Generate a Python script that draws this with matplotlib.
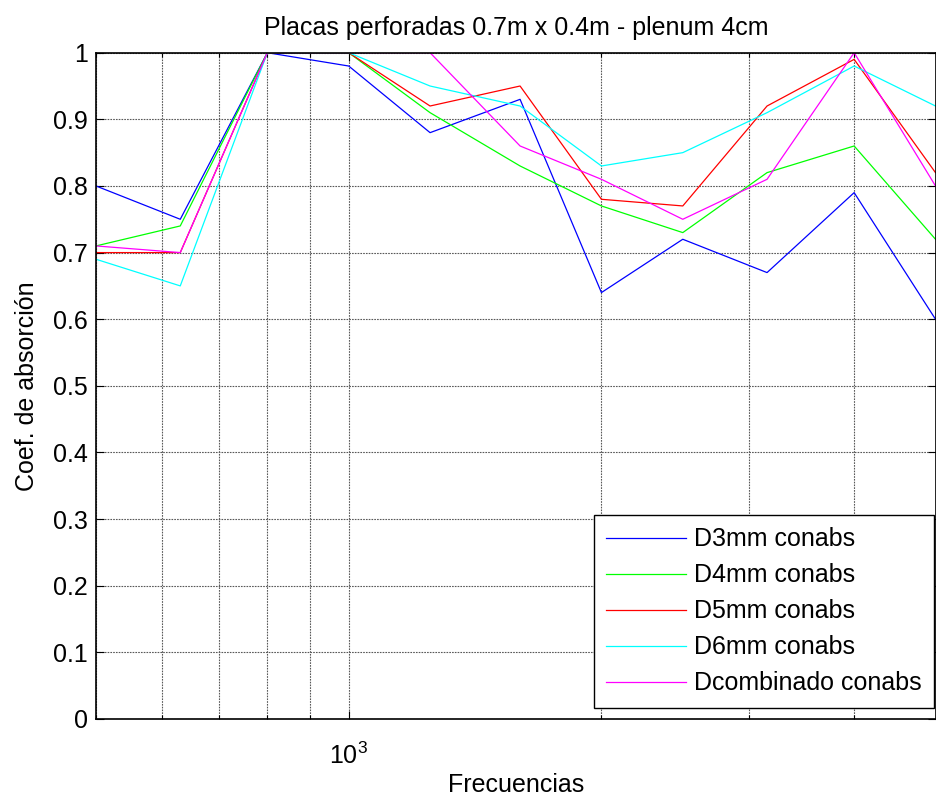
import numpy as np
import matplotlib
matplotlib.use("Agg")
import matplotlib.pyplot as plt
from matplotlib.ticker import NullFormatter, FixedLocator

plt.rcParams["font.family"] = ["Liberation Sans", "DejaVu Sans"]
plt.rcParams["mathtext.fontset"] = "custom"
plt.rcParams["mathtext.rm"] = "Liberation Sans"
plt.rcParams["mathtext.it"] = "Liberation Sans"

# third-octave band centres (Hz)
frecuencias = [500, 630, 800, 1000, 1250, 1600, 2000, 2500, 3150, 4000, 5000]

d3mm = [0.80, 0.75, 1.00, 0.98, 0.88, 0.93, 0.64, 0.72, 0.67, 0.79, 0.60]
d4mm = [0.71, 0.74, 1.00, 1.00, 0.91, 0.83, 0.77, 0.73, 0.82, 0.86, 0.72]
d5mm = [0.70, 0.70, 1.00, 1.00, 0.92, 0.95, 0.78, 0.77, 0.92, 0.99, 0.82]
d6mm = [0.69, 0.65, 1.00, 1.00, 0.95, 0.92, 0.83, 0.85, 0.91, 0.98, 0.92]
dcomb = [0.71, 0.70, 1.00, 1.00, 1.00, 0.86, 0.81, 0.75, 0.81, 1.00, 0.80]

series = [
    ("D3mm conabs", d3mm, (0, 0, 1)),
    ("D4mm conabs", d4mm, (0, 1, 0)),
    ("D5mm conabs", d5mm, (1, 0, 0)),
    ("D6mm conabs", d6mm, (0, 1, 1)),
    ("Dcombinado conabs", dcomb, (1, 0, 1)),
]

fig = plt.figure(figsize=(9.36, 7.98), dpi=100)
ax = fig.add_axes([96 / 936, 79 / 798, 839.5 / 936, 666.3 / 798])

for name, vals, col in series:
    ax.plot(frecuencias, vals, color=col, lw=0.9, label=name)

ax.set_xscale("log")
ax.set_xlim(500, 5000)
ax.set_ylim(0, 1)
ax.set_yticks(np.arange(0, 1.01, 0.1))
ax.set_yticklabels(["0", "0.1", "0.2", "0.3", "0.4", "0.5", "0.6", "0.7", "0.8", "0.9", "1"])
ax.xaxis.set_major_locator(FixedLocator([1000]))
ax.xaxis.set_minor_locator(FixedLocator([500, 600, 700, 800, 900, 2000, 3000, 4000, 5000]))
ax.xaxis.set_minor_formatter(NullFormatter())

ax.tick_params(which="both", direction="in", top=True, right=True, labelsize=18)
ax.tick_params(which="major", length=6, width=0.8)
ax.tick_params(which="minor", length=3, width=0.8)
ax.tick_params(axis="x", pad=17)
ax.tick_params(axis="y", pad=6)

ax.grid(True, which="both", axis="x", color="0.35", linestyle=(0, (1.5, 1)), lw=0.8)
ax.grid(True, which="major", axis="y", color="0.35", linestyle=(0, (1.5, 1)), lw=0.8)

for s in ax.spines.values():
    s.set_linewidth(1.2)

ax.set_title("Placas perforadas 0.7m x 0.4m - plenum 4cm", fontsize=18, pad=13)
ax.set_xlabel("Frecuencias", fontsize=18, labelpad=3)
ax.set_ylabel("Coef. de absorción", fontsize=18, labelpad=10)

leg = ax.legend(loc="lower right", bbox_to_anchor=((934 - 96) / 839.5, (719 - 708) / 666.3),
                fontsize=18, fancybox=False, framealpha=1, edgecolor="k",
                handlelength=3.2, handletextpad=0.3, borderaxespad=0, borderpad=0.5,
                labelspacing=0.48)
leg.get_frame().set_linewidth(1.0)

fig.savefig("out.png", dpi=100)
